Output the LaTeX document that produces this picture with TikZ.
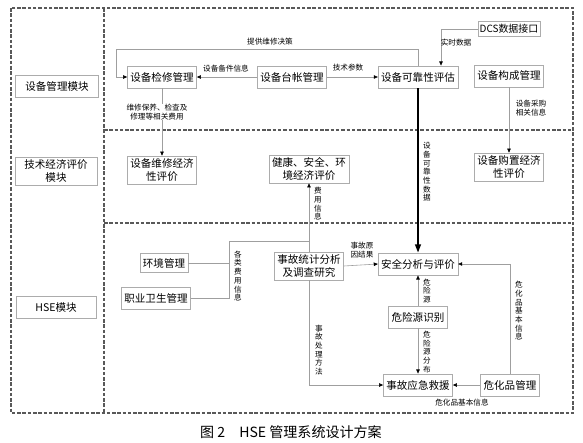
\documentclass[tikz,border=0pt]{standalone}
\usepackage{fontspec}
\setmainfont{Noto Sans CJK SC}
\usetikzlibrary{arrows.meta, calc, positioning}

\begin{document}
\begin{tikzpicture}[x=0.03cm, y=-0.03cm,
    box/.style={draw=gray!65, line width=0.5pt, fill=white, font=\fontsize{9}{10.5}\selectfont,
        inner xsep=2.5pt, inner ysep=2.5pt, minimum height=19pt, align=center},
    lbl/.style={font=\fontsize{6.5}{7.4}\selectfont, inner sep=0.5pt, align=center},
    conn/.style={draw=gray!75, line width=0.5pt, -{Triangle[length=3.5pt, width=3pt, color=black]}},
    wire/.style={draw=gray!75, line width=0.5pt},
    frame/.style={draw=black!65, line width=1.6pt, dash pattern=on 3pt off 1.5pt}]
    \useasboundingbox[fill=white] (0,0) rectangle (583,442);

    % 虚线分区
    \draw[frame] (11,8) rectangle (573,413);
    \draw[frame] (104,8) -- (104,413);
    \draw[frame] (104,130) -- (573,130);
    \draw[frame] (104,223) -- (573,223);

    % 左侧模块
    \node[box, minimum width=71] (sbmk) at (57,86) {设备管理模块};
    \node[box, minimum width=70] (jjmk) at (56,171) {技术经济评价\\模块};
    \node[box, minimum width=68] (hsemk) at (56,307) {HSE模块};

    % 设备管理
    \node[box] (jx) at (162,77) {设备检修管理};
    \node[box] (tz) at (292,77) {设备台帐管理};
    \node[box] (kk) at (418,77) {设备可靠性评估};
    \node[box] (gc) at (509,76) {设备构成管理};
    \node[box, minimum height=13pt, inner ysep=1pt, inner xsep=1.5pt, font=\fontsize{8.5}{10}\selectfont] (dcs) at (509,29) {DCS数据接口};

    % 技术经济评价
    \node[box] (wj) at (162,170) {设备维修经济\\性评价};
    \node[box] (jk) at (309,169) {健康、安全、环\\境经济评价};
    \node[box] (gz) at (509,167) {设备购置经济\\性评价};

    % HSE
    \node[box, minimum height=16pt] (hj) at (164,263) {环境管理};
    \node[box] (zy) at (156,298) {职业卫生管理};
    \node[box] (sg) at (309,266) {事故统计分析\\及调查研究};
    \node[box] (aq) at (418,264) {安全分析与评价};
    \node[box] (wx) at (418,317) {危险源识别};
    \node[box] (yj) at (418,385) {事故应急救援};
    \node[box] (wh) at (510,385) {危化品管理};

    % 连线
    \coordinate (jc) at (116,49);
    \draw[conn] (kk.north) |- (jc) |- (jx.west);
    \node[lbl] (l1) at (270,42) {提供维修决策};
    \draw[conn] (tz.west) -- (jx.east);
    \node[lbl] (l2) at (226,69) {设备备件信息};
    \draw[conn] (tz.east) -- (kk.west);
    \node[lbl] (l3) at (348,68) {技术参数};
    \coordinate (dj) at (441,29);
    \draw[conn] (dcs.west) -- (dj) -- (dj |- kk.north);
    \node[lbl] (l4) at (456,43) {实时数据};

    \draw[conn] (jx.south) -- (wj.north);
    \node[lbl, fill=white] (l5) at (157,112) {维修保养、检查及\\修理等相关费用};
    \draw[conn] (gc.south) -- (gz.north);
    \node[lbl] (l6) at (531,108) {设备采购\\相关信息};

    \draw[line width=1.3pt, -{Triangle[length=7pt, width=5pt]}] (kk.south) -- (aq.north);
    \node[lbl] (l7) at (427,172) {设\\备\\可\\靠\\性\\数\\据};

    \draw[conn] (sg.north) -- (jk.south);
    \node[lbl] (l8) at (318,204) {费\\用\\信\\息};
    \coordinate (fy) at (229,241);
    \draw[wire] (hj.east) -| (fy) -- (fy -| sg.north);
    \draw[wire] (zy.east) -| (fy);
    \node[lbl] (l9) at (238,276) {各\\类\\费\\用\\信\\息};

    \draw[conn] (sg.east) -- (aq.west);
    \node[lbl] (l10) at (362,250) {事故原\\因结果};
    \draw[conn] (sg.south) |- (yj.west);
    \node[lbl] (l11) at (319,350) {事\\故\\处\\理\\方\\法};

    \draw[conn] (wx.north) -- (aq.south);
    \node[lbl] (l12) at (427,291) {危\\险\\源};
    \draw[conn] (wx.south) -- (yj.north);
    \node[lbl] (l13) at (427,352) {危\\险\\源\\分\\布};

    \draw[conn] (wh.west) -- (yj.east);
    \node[lbl] (l14) at (462,403) {危化品基本信息};
    \draw[conn] (wh.north) |- (aq.east);
    \node[lbl] (l15) at (519,311) {危\\化\\品\\基\\本\\信\\息};

    % 图题
    \node[font=\fontsize{12}{14}\selectfont] (title) at (291,432) {图 2\quad HSE 管理系统设计方案};
\end{tikzpicture}
\end{document}
